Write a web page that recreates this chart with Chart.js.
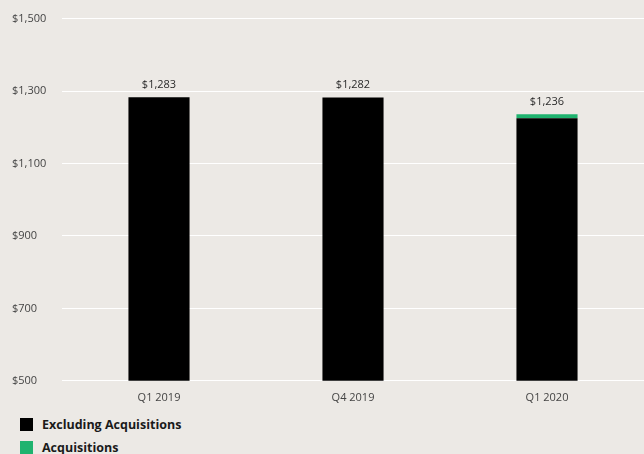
<!DOCTYPE html>
<html>
<head>
<meta charset="utf-8">
<script src="https://cdn.jsdelivr.net/npm/chart.js@4/dist/chart.umd.min.js"></script>
<style>
  html, body { margin: 0; padding: 0; background: #ece9e5; }
  body { width: 644px; height: 454px; overflow: hidden; font-family: "Open Sans", sans-serif; }
  #wrap { position: relative; width: 644px; height: 406px; }
  .legende { position: absolute; left: 20px; top: 413px; }
  .legende div { display: flex; align-items: center; height: 23px; font-weight: 700; font-size: 12.5px; color: #1a1a1a; }
  .legende span { display: inline-block; width: 13px; height: 13px; margin-right: 9px; }
</style>
</head>
<body>
<div id="wrap"><canvas id="graphe"></canvas></div>
<div class="legende">
  <div><span style="background:#000"></span>Excluding Acquisitions</div>
  <div><span style="background:#1fb36f"></span>Acquisitions</div>
</div>
<script>
// ── Données ────────────────────────────────────────────
const trimestres = ['Q1 2019', 'Q4 2019', 'Q1 2020'];
const horsAcquisitions = [1283, 1282, 1225];
const acquisitions = [0, 0, 11];
const graduations = [500, 700, 900, 1100, 1300, 1500];

const fmt = v => '$' + v.toLocaleString('en-US');

// Étiquettes des totaux au-dessus des barres
const totauxPlugin = {
    id: 'totaux',
    afterDatasetsDraw(chart) {
        const ctx = chart.ctx;
        const meta = chart.getDatasetMeta(chart.data.datasets.length - 1);
        ctx.save();
        ctx.font = '11px "Open Sans", sans-serif';
        ctx.fillStyle = '#2a2a2a';
        ctx.textAlign = 'center';
        ctx.textBaseline = 'bottom';
        meta.data.forEach((bar, i) => {
            const total = horsAcquisitions[i] + acquisitions[i];
            ctx.fillText(fmt(total), bar.x, bar.y - 7);
        });
        ctx.restore();
    }
};

new Chart(document.getElementById('graphe'), {
    type: 'bar',
    data: {
        labels: trimestres,
        datasets: [
            { label: 'Excluding Acquisitions', data: horsAcquisitions, backgroundColor: '#000', barPercentage: 0.63, categoryPercentage: 0.5 },
            { label: 'Acquisitions', data: acquisitions, backgroundColor: '#1fb36f', barPercentage: 0.63, categoryPercentage: 0.5 }
        ]
    },
    options: {
        responsive: true,
        maintainAspectRatio: false,
        animation: false,
        layout: { padding: { left: 12, top: 12, right: -4, bottom: 0 } },
        plugins: { legend: { display: false }, tooltip: { enabled: false } },
        scales: {
            x: {
                stacked: true,
                grid: { display: false },
                border: { display: false },
                ticks: { color: '#444', font: { size: 11, family: '"Open Sans", sans-serif' }, padding: 2 }
            },
            y: {
                stacked: true,
                min: 500,
                max: 1500,
                afterBuildTicks: axis => { axis.ticks = graduations.map(v => ({ value: v })); },
                afterFit: axis => { axis.width = 50; },
                grid: { color: '#ffffff', lineWidth: 1, drawTicks: false },
                border: { display: false },
                ticks: {
                    color: '#444',
                    font: { size: 11, family: '"Open Sans", sans-serif' },
                    crossAlign: 'far',
                    padding: 12,
                    callback: v => fmt(v)
                }
            }
        }
    },
    plugins: [totauxPlugin]
});
</script>
</body>
</html>
